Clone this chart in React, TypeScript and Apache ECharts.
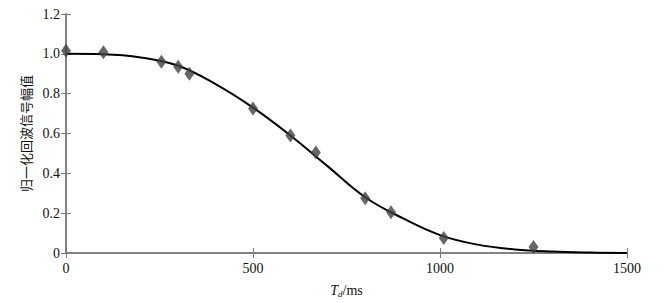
import React, { useEffect, useRef } from "react";
import * as echarts from "echarts";

const measuredT = [0, 100, 255, 300, 330, 500, 600, 668, 800, 869, 1010, 1250];
const measuredA = [1.015, 1.008, 0.96, 0.935, 0.9, 0.725, 0.59, 0.505, 0.275, 0.205, 0.075, 0.03];

const fitT = [0, 100, 200, 300, 400, 500, 600, 700, 800, 900, 1000, 1100, 1200, 1300, 1400, 1500];
const fitA = [1.0, 0.998, 0.982, 0.94, 0.848, 0.73, 0.59, 0.435, 0.28, 0.175, 0.09, 0.042, 0.018, 0.007, 0.002, 0.0];

const yTicks = ["0", "0.2", "0.4", "0.6", "0.8", "1.0", "1.2"];

export default function App() {
  const ref = useRef<HTMLDivElement>(null);
  useEffect(() => {
    if (!ref.current) return;
    const chart = echarts.init(ref.current, null, { renderer: "svg" });
    const axisColor = "#7a7a7a";
    const font = "Times New Roman";
    chart.setOption({
      animation: false,
      backgroundColor: "#ffffff",
      textStyle: { fontFamily: font },
      grid: { left: 66, right: 42, top: 14, bottom: 49 },
      xAxis: [
        {
          type: "value",
          min: 0,
          max: 1500,
          interval: 500,
          position: "bottom",
          axisLine: { show: true, lineStyle: { color: axisColor, width: 1.5 } },
          axisTick: { show: true, inside: true, length: 5, lineStyle: { color: axisColor } },
          axisLabel: { margin: 8, color: "#111", fontFamily: font, fontSize: 14, formatter: (v: number) => String(v) },
          splitLine: { show: false },
          name: "{i|T}{sub|d}{n|/ms}",
          nameLocation: "middle",
          nameGap: 30,
          nameTextStyle: {
            rich: {
              i: { fontFamily: font, fontStyle: "italic", fontSize: 14, color: "#111" },
              sub: { fontFamily: font, fontStyle: "italic", fontSize: 9, color: "#111", verticalAlign: "bottom", padding: [6, 0, 0, 0] },
              n: { fontFamily: font, fontSize: 14, color: "#111" },
            },
          },
        },
        {
          type: "value",
          min: 0,
          max: 1500,
          interval: 500,
          position: "top",
          axisLine: { show: true, lineStyle: { color: axisColor, width: 1.5 } },
          axisTick: { show: true, inside: true, length: 5, lineStyle: { color: axisColor } },
          axisLabel: { show: false },
          splitLine: { show: false },
        },
      ],
      yAxis: [
        {
          type: "value",
          min: 0,
          max: 1.2,
          interval: 0.2,
          position: "left",
          axisLine: { show: true, lineStyle: { color: axisColor, width: 1.5 } },
          axisTick: { show: true, inside: true, length: 5, lineStyle: { color: axisColor } },
          axisLabel: {
            margin: 6,
            color: "#111",
            fontFamily: font,
            fontSize: 14,
            formatter: (v: number) => yTicks[Math.round(v / 0.2)] ?? "",
          },
          splitLine: { show: false },
          name: "归一化回波信号幅值",
          nameLocation: "middle",
          nameGap: 29,
          nameTextStyle: { fontFamily: "Noto Sans CJK SC", fontSize: 13, color: "#111" },
        },
        {
          type: "value",
          min: 0,
          max: 1.2,
          interval: 0.2,
          position: "right",
          axisLine: { show: true, lineStyle: { color: axisColor, width: 1.5 } },
          axisTick: { show: true, inside: true, length: 5, lineStyle: { color: axisColor } },
          axisLabel: { show: false },
          splitLine: { show: false },
        },
      ],
      series: [
        {
          type: "line",
          data: fitT.map((t, i) => [t, fitA[i]]),
          smooth: 0.4,
          showSymbol: false,
          symbol: "none",
          lineStyle: { color: "#000", width: 2 },
          z: 2,
        },
        {
          type: "scatter",
          data: measuredT.map((t, i) => [t, measuredA[i]]),
          symbol: "diamond",
          symbolSize: [10, 14],
          itemStyle: { color: "#404040" },
          z: 3,
        },
      ],
    });
    return () => chart.dispose();
  }, []);
  return (
    <div
      ref={ref}
      style={{ position: "fixed", left: 0, top: 0, width: 669, height: 303, background: "#fff" }}
    />
  );
}
